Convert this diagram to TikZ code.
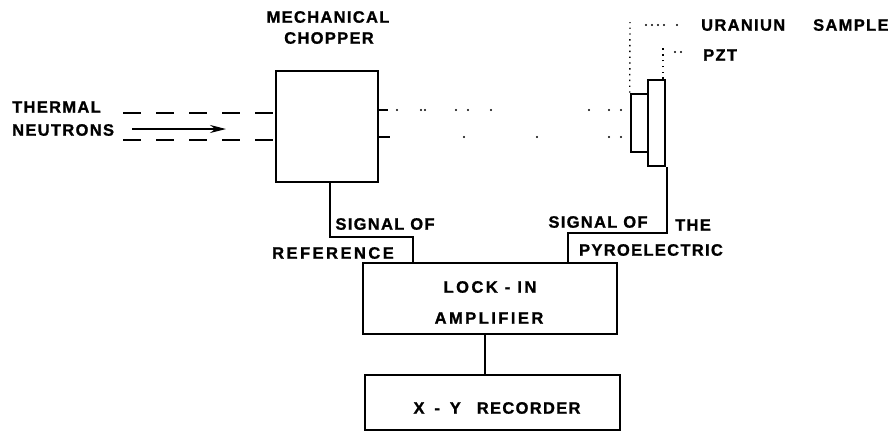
\documentclass[tikz,border=0pt]{standalone}
\usepackage{fontspec}
\setmainfont{Liberation Sans}[LetterSpace=8, BoldFeatures={FakeBold=1.2}]
\usepackage{tikz}
\usetikzlibrary{positioning,arrows.meta,calc}

\begin{document}
\begin{tikzpicture}[
  x=1pt, y=-1pt,
  font=\fontsize{16.5}{18}\selectfont\bfseries,
  block/.style={draw=black, line width=2.6pt, inner sep=0pt},
  label/.style={inner sep=0pt, align=center},
  wide/.style={font=\fontsize{16.5}{18}\selectfont\bfseries\addfontfeature{LetterSpace=15}},
  wire/.style={line width=1.8pt, black},
  beam/.style={line width=1.5pt, dash pattern=on 18pt off 15pt},
  leader/.style={line width=1.4pt, dash pattern=on 1.4pt off 4.4pt},
  arr/.style={-{Stealth[length=16pt, width=8pt]}, line width=1.2pt},
]
\useasboundingbox (0,0) rectangle (888,432);

% chopper and the two plates
\node[block, minimum width=102pt, minimum height=111pt] (chopper) at (327,126.5) {};
\node[block, minimum width=17pt, minimum height=58pt] (sample) at (639.5,123) {};
\node[block, minimum width=17pt, minimum height=86pt] (pzt) at (656.5,123) {};

% electronics
\node[block, minimum width=254pt, minimum height=71pt] (amp) at (490,298.5) {};
\node[block, minimum width=255pt, minimum height=55pt] (recorder) at (492.5,402.5) {};
\node[label, wide] (lockin) at (490,287) {LOCK - IN};
\node[label, wide] (amplifier) at (489,318) {AMPLIFIER};
\node[label] (xy) at (497,408) {X\hspace{4pt} - \hspace{4pt}Y\hspace{16pt}RECORDER};

% labels
\node[label, anchor=west] (thermal) at (12,107) {THERMAL};
\node[label, anchor=west] (neutrons) at (12,130) {NEUTRONS};
\node[label] (mechanical) at (328,17) {MECHANICAL};
\node[label] (choppertxt) at (329,38) {CHOPPER};
\node[label, anchor=west] (uranium) at (701,25) {URANIUN\hspace{28pt}SAMPLE};
\node[label, anchor=west] (pzttxt) at (703,55) {PZT};
\node[label] (sigref) at (385,224) {SIGNAL OF};
\node[label, wide] (reference) at (333,253) {REFERENCE};
\node[label] (sigpyro) at (598,222) {SIGNAL OF};
\node[label] (the) at (693,225) {THE};
\node[label] (pyro) at (651,250) {PYROELECTRIC};

% neutron beam
\coordinate (b1) at (123,113);
\coordinate (b2) at (123,140);
\coordinate (a1) at (132,129);
\coordinate (a2) at (226,129);
\draw[beam] (b1) -- (b1 -| chopper.west);
\draw[beam] (b2) -- (b2 -| chopper.west);
\draw[arr] (a1) -- (a2);

% beam behind the chopper
\coordinate (s1) at (388,110);
\coordinate (s2) at (390,137);
\draw[wire] (s1 -| chopper.east) -- (s1);
\draw[wire] (s2 -| chopper.east) -- (s2);
\foreach \x in {397,421,425,456,468,491,589,609,621}
  \fill (\x,110) circle (1.2pt);
\foreach \x in {464,537,609,621}
  \fill (\x,137) circle (1.2pt);

% leaders
\coordinate (u1) at (630,22);
\coordinate (p1) at (663,48);
\draw[leader] (sample.north west) -- (u1);
\draw[leader] (pzt.north east -| p1) -- (p1);
\foreach \x in {646,652,658,664,677}
  \fill (\x,25) circle (1.1pt);
\foreach \x in {675,681}
  \fill (\x,52) circle (1.1pt);

% signals
\coordinate (r1) at (330,237);
\coordinate (r2) at (413,237);
\coordinate (t1) at (667,233);
\coordinate (t2) at (568,233);
\coordinate (m1) at (485,334);
\draw[wire] (r1 |- chopper.south) -- (r1) -- (r2) -- (r2 |- amp.north);
\draw[wire] (t1 |- pzt.south) -- (t1) -- (t2) -- (t2 |- amp.north);
\draw[wire] (m1) -- (m1 |- recorder.north);
\end{tikzpicture}
\end{document}
